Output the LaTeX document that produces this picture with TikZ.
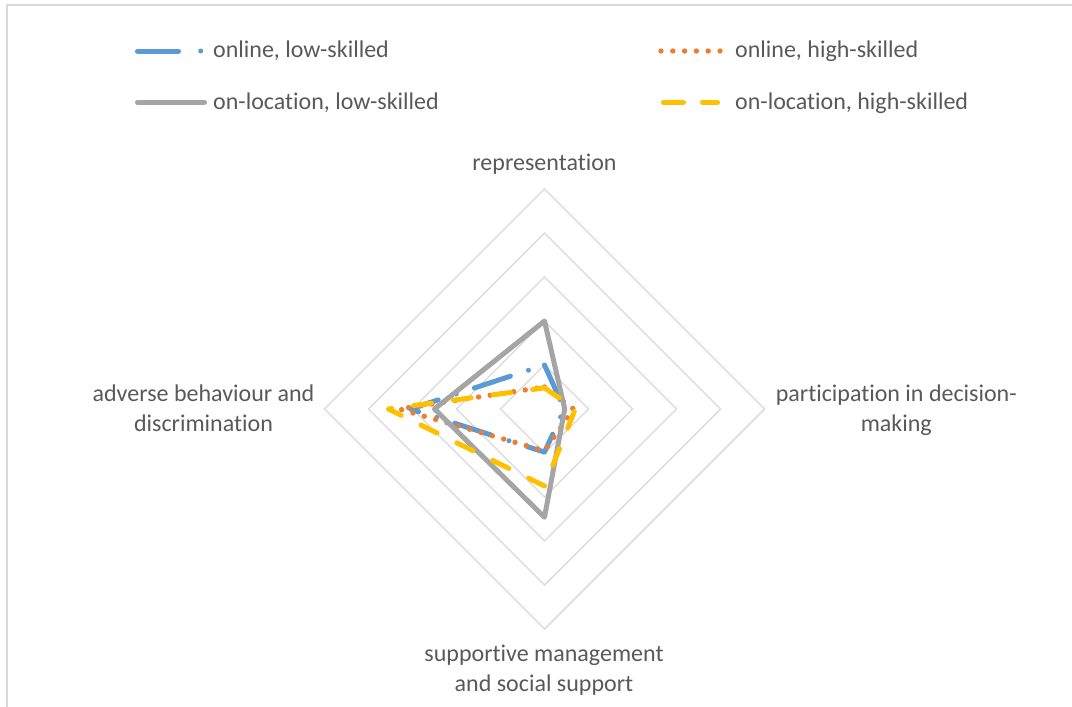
\documentclass[tikz,border=0pt]{standalone}
\usepackage{fontspec}
\setmainfont{Carlito}[Ligatures={CommonOff}]
\usetikzlibrary{calc}
\definecolor{cblue}{HTML}{5B9BD5}
\definecolor{corange}{HTML}{ED7D31}
\definecolor{cgray}{HTML}{A5A5A5}
\definecolor{cyellow}{HTML}{FFC000}
\definecolor{cgrid}{HTML}{D9D9D9}
\definecolor{ctext}{HTML}{595959}
\begin{document}
\begin{tikzpicture}[x=1pt,y=-1pt,
 grid/.style={draw=cgrid,line width=1.4pt},
 ser/.style={line width=5pt,line cap=round,line join=round},
 sblue/.style={ser,draw=cblue,dash pattern=on 38pt off 19pt on 0pt off 19pt},
 sorange/.style={ser,draw=corange,line width=5.4pt,dash pattern=on 0pt off 11.8pt},
 sgray/.style={ser,draw=cgray},
 syellow/.style={ser,draw=cyellow,dash pattern=on 18pt off 22pt},
 lbl/.style={text=ctext,font=\fontsize{24}{30}\selectfont,align=center,inner sep=0pt},
 leg/.style={text=ctext,font=\fontsize{24}{30}\selectfont,anchor=base west,inner sep=0pt}]
\useasboundingbox (0,0) rectangle (1072,707);
% frame
\draw[cgrid,line width=1.5pt] (7,707) -- (7,5) -- (1072,5);
% grid
\coordinate (c) at (544.5,409);
\foreach \k in {1,...,5}{
  \draw[grid] ($(c)+(0,-44*\k)$) -- ($(c)+(44*\k,0)$) -- ($(c)+(0,44*\k)$) -- ($(c)+(-44*\k,0)$) -- cycle;
}
% series: top, right, bottom, left
\newcommand{\radarpath}[5]{%
  \draw[#1] ($(c)+(0,-44*#2)$) -- ($(c)+(44*#3,0)$) -- ($(c)+(0,44*#4)$) -- ($(c)+(-44*#5,0)$) -- cycle;}
\radarpath{sblue}{1.0}{0.45}{0.98}{3.05}
\radarpath{sorange}{0.5}{0.66}{0.95}{3.3}
\radarpath{sgray}{2.0}{0.46}{2.46}{2.5}
\radarpath{syellow}{0.48}{0.7}{1.75}{3.55}
% axis labels (base = last line)
\node[lbl,anchor=base] (ltop) at (544.5,170.7) {representation};
\node[lbl,anchor=base] (lleft) at (203.5,431.7) {adverse behaviour and\\discrimination};
\node[lbl,anchor=base] (lright) at (896.3,431.7) {participation in decision-\\making};
\node[lbl,anchor=base] (lbottom) at (544,691.7) {supportive management\\and social support};
% legend
\coordinate (b1) at (137.5,51); \coordinate (b2) at (203,51);
\draw[ser,draw=cblue,dash pattern=on 41pt off 22.2pt on 0pt off 100pt] (b1) -- (b2);
\node[leg] (tb) at (213,57.7) {online, low-skilled};
\coordinate (o1) at (661,51); \coordinate (o2) at (720,51);
\draw[sorange] (o1) -- (o2);
\node[leg] (to) at (735,57.7) {online, high-skilled};
\coordinate (g1) at (137.5,102.3); \coordinate (g2) at (204.5,102.3);
\draw[sgray] (g1) -- (g2);
\node[leg] (tg) at (213,109.3) {on-location, low-skilled};
\coordinate (y1) at (663.5,102.3); \coordinate (y2) at (717.5,102.3);
\draw[ser,draw=cyellow,dash pattern=on 20pt off 19pt] (y1) -- (y2);
\node[leg] (ty) at (735,109.3) {on-location, high-skilled};
\end{tikzpicture}
\end{document}
